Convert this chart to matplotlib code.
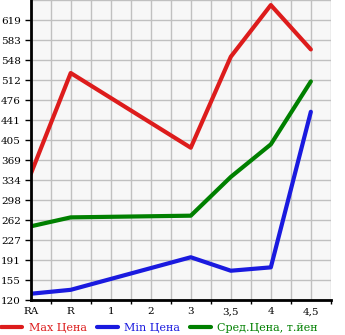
import numpy as np
import matplotlib.pyplot as plt

categories = ['RA', 'R', '1', '2', '3', '3,5', '4', '4,5']
# positions of categories that have data (1 and 2 have none)
data_idx = [0, 1, 4, 5, 6, 7]
max_price = [345, 525, 392, 554, 646, 567]
min_price = [132, 139, 197, 173, 179, 456]
avg_price = [252, 268, 271, 340, 398, 510]

ymin, ymax = 120, 655
yticks = np.linspace(ymin, ymax, 16)

plt.rcParams['font.family'] = ['DejaVu Serif']

fig = plt.figure(figsize=(3.45, 3.35), dpi=100)
ax = fig.add_axes([0.089, 0.103, 0.870, 0.897])
ax.set_facecolor('#f7f7f7')

ax.plot(data_idx, max_price, color='#dd1c1c', lw=3, solid_capstyle='round', label='Max Цена')
ax.plot(data_idx, min_price, color='#1a1adf', lw=3, solid_capstyle='round', label='Min Цена')
ax.plot(data_idx, avg_price, color='#008000', lw=3, solid_capstyle='round', label='Сред.Цена, т.йен')

ax.set_xlim(0, 7.5)
ax.set_ylim(ymin, ymax)
ax.set_xticks(range(len(categories)))
ax.set_xticklabels(categories, fontsize=7.5)
ax.set_xticks(np.arange(0.5, 7.6, 0.5), minor=True)
ax.set_yticks(yticks[:-1])
ax.set_yticklabels([str(int(v)) for v in yticks[:-1]], fontsize=7.5)

ax.grid(True, which='both', axis='x', color='#c0c0c0', lw=1)
ax.grid(True, which='major', axis='y', color='#c0c0c0', lw=1)
ax.axhline(ymax, color='#c0c0c0', lw=1)
ax.set_axisbelow(True)

ax.tick_params(axis='x', which='major', length=0, pad=5)
ax.tick_params(axis='x', which='minor', length=3, width=1)
ax.tick_params(axis='y', length=4, width=1, pad=3)

for s in ['top', 'right']:
    ax.spines[s].set_visible(False)
for s in ['left', 'bottom']:
    ax.spines[s].set_linewidth(2)

leg = fig.legend(loc='lower left', bbox_to_anchor=(-0.025, -0.025), ncol=3, frameon=False,
                 fontsize=8, handlelength=1.9, handletextpad=0.55, columnspacing=0.9)
for text, line in zip(leg.get_texts(), leg.get_lines()):
    text.set_color(line.get_color())

fig.savefig('out.png', dpi=100)
